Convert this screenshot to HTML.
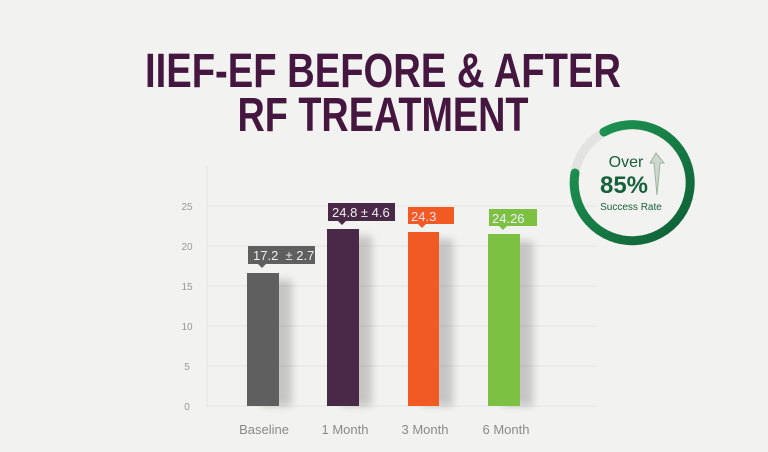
<!DOCTYPE html>
<html><head><style>html,body{margin:0;padding:0;background:#f2f2f0;}svg{display:block}</style></head>
<body>
<svg width="768" height="452" viewBox="0 0 768 452" xmlns="http://www.w3.org/2000/svg" font-family="Liberation Sans, sans-serif">
<defs>
<filter id="sh" x="-50%" y="-10%" width="200%" height="120%"><feGaussianBlur stdDeviation="4"/></filter>
<linearGradient id="g" x1="0" y1="0" x2="1" y2="1"><stop offset="0" stop-color="#1f9a55"/><stop offset="1" stop-color="#0e5e35"/></linearGradient>
</defs>
<rect width="768" height="452" fill="#f2f2f0"/>
<g fill="#451640" font-weight="bold">
<text x="383" y="87" font-size="48" text-anchor="middle" textLength="476" lengthAdjust="spacingAndGlyphs">IIEF-EF BEFORE &amp; AFTER</text>
<text x="383" y="131" font-size="48" text-anchor="middle" textLength="291" lengthAdjust="spacingAndGlyphs">RF TREATMENT</text>
</g>
<g stroke="#e4e4e2" stroke-width="1">
<line x1="207" y1="166" x2="207" y2="406"/>
<line x1="207" y1="206" x2="596" y2="206"/>
<line x1="207" y1="246" x2="596" y2="246"/>
<line x1="207" y1="286" x2="596" y2="286"/>
<line x1="207" y1="326" x2="596" y2="326"/>
<line x1="207" y1="366" x2="596" y2="366"/>
<line x1="207" y1="406" x2="596" y2="406"/>
</g>
<g fill="#9a9a9a" font-size="10" text-anchor="middle">
<text x="187" y="210">25</text><text x="187" y="250">20</text><text x="187" y="290">15</text>
<text x="187" y="330">10</text><text x="187" y="370">5</text><text x="187" y="410">0</text>
</g>
<g fill="#000" opacity="0.18" filter="url(#sh)">
<rect x="262" y="280" width="30" height="126"/><rect x="342" y="236" width="30" height="170"/>
<rect x="423" y="239" width="30" height="167"/><rect x="503" y="241" width="30" height="165"/>
</g>
<rect x="247" y="273" width="32" height="133" fill="#5f5f5f"/>
<rect x="327" y="229" width="32" height="177" fill="#4a2848"/>
<rect x="408" y="232" width="31" height="174" fill="#f15a22"/>
<rect x="488" y="234" width="32" height="172" fill="#7cc142"/>
<g font-size="13" fill="#fff">
<rect x="248" y="246" width="67" height="18" fill="#5f5f5f"/><path d="M258 264h8l-4 4z" fill="#5f5f5f"/>
<text x="253" y="260" fill="#eee">17.2 &#160;± 2.7</text>
<rect x="328" y="203" width="67" height="18" fill="#4a2848"/><path d="M338 221h8l-4 4z" fill="#4a2848"/>
<text x="332" y="217" fill="#eee">24.8 ± 4.6</text>
<rect x="408" y="207" width="46" height="17" fill="#f15a22"/><path d="M418 224h8l-4 4z" fill="#f15a22"/>
<text x="411" y="221" fill="#fde">24.3</text>
<rect x="489" y="209" width="48" height="17" fill="#7cc142"/><path d="M499 226h8l-4 4z" fill="#7cc142"/>
<text x="492" y="223" fill="#eef">24.26</text>
</g>
<g fill="#8a8a8a" font-size="13" text-anchor="middle">
<text x="264" y="434">Baseline</text><text x="345" y="434">1 Month</text>
<text x="425" y="434">3 Month</text><text x="506" y="434">6 Month</text>
</g>
<circle cx="632" cy="183" r="58" fill="none" stroke="#e3e3e1" stroke-width="9"/>
<path d="M604 132 A58 58 0 1 1 575 173" fill="none" stroke="url(#g)" stroke-width="9" stroke-linecap="round" transform="rotate(0)"/>
<g text-anchor="middle" fill="#17613a">
<text x="626" y="167" font-size="16">Over</text>
<text x="624" y="193" font-size="24" font-weight="bold">85%</text>
<text x="631" y="210" font-size="10">Success Rate</text>
</g>
<path d="M656 153 l-6 10 h4 l3 32 l3 -32 h4 z" fill="#cfd8cf" stroke="#9bb59d" stroke-width="1"/>
</svg>
</body></html>
